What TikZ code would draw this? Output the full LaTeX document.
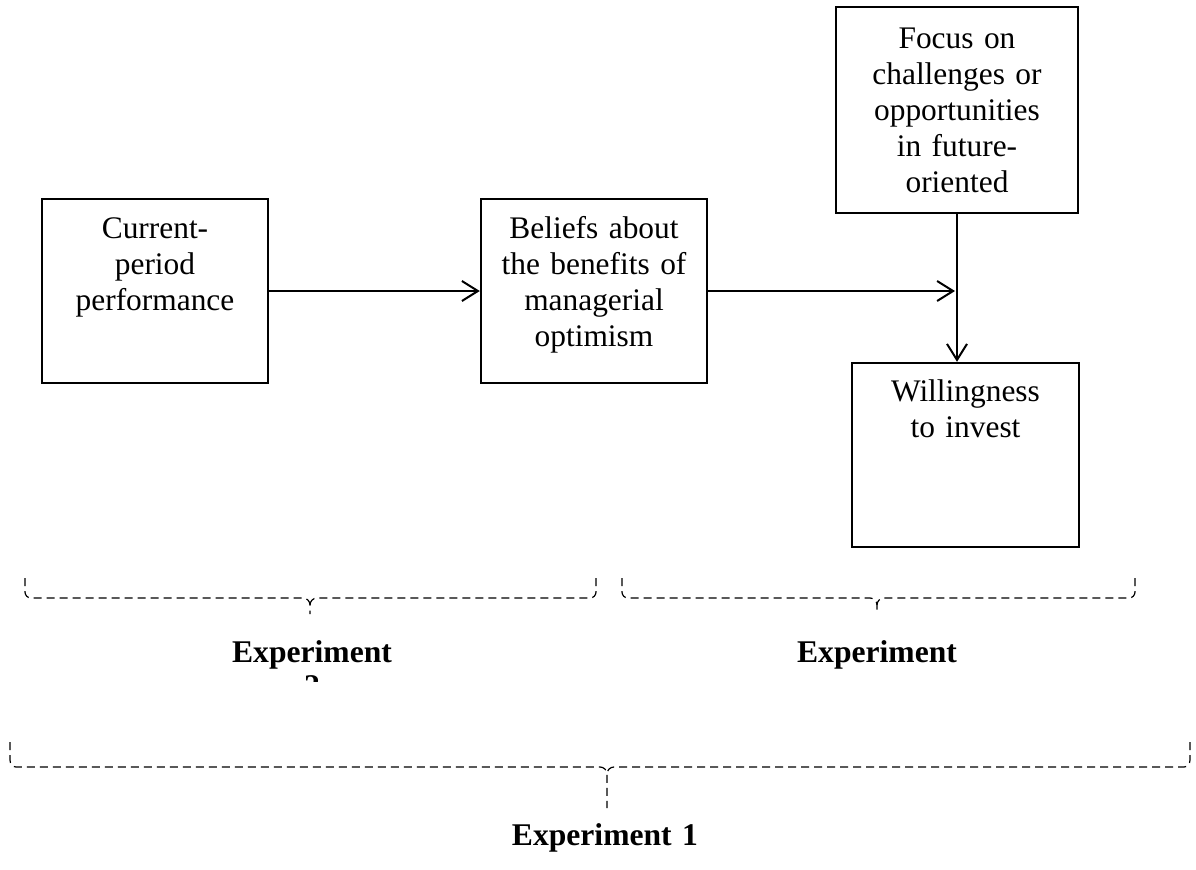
\documentclass[tikz,border=0pt]{standalone}
\usepackage{fontspec}
\setmainfont{Liberation Serif}
\usetikzlibrary{arrows.meta}
\begin{document}
\begin{tikzpicture}[x=0.5pt,y=-0.5pt,
  box/.style={draw,line width=1.2pt,inner sep=0pt},
  lbl/.style={font=\fontsize{15.7}{18}\selectfont,text width=118pt,align=center,anchor=base,inner sep=0pt},
  exlbl/.style={font=\fontsize{15.8}{17}\selectfont\bfseries,text width=110pt,align=center,anchor=base,inner sep=0pt},
  arr/.style={line width=1pt,-{Straight Barb[length=8pt,width=10pt,line width=1pt]}},
  brace/.style={line width=0.6pt,dash pattern=on 4pt off 2.5pt}]
\useasboundingbox (0,0) rectangle (1196,869);

% boxes
\node[box,minimum width=113pt,minimum height=92pt] (cur) at (155,291) {};
\node[lbl] (curt) at ([yshift=-20.5pt]cur.north) {Current-\\period\\performance};

\node[box,minimum width=113pt,minimum height=92pt] (bel) at (594,291) {};
\node[lbl] (belt) at ([yshift=-20.5pt]bel.north) {Beliefs about\\the benefits of\\managerial\\optimism};

\node[box,minimum width=121pt,minimum height=103pt] (foc) at (957,110) {};
\node[lbl] (foct) at ([yshift=-21.5pt]foc.north) {Focus on\\challenges or\\opportunities\\in future-\\oriented};

\node[box,minimum width=113.5pt,minimum height=92pt] (wil) at (965.5,455) {};
\node[lbl] (wilt) at ([yshift=-20pt]wil.north) {Willingness\\to invest};

% connectors
\coordinate (j) at (foc.south |- bel.east);
\draw[arr] (cur.east) -- (bel.west);
\draw[arr,shorten >=1pt] (bel.east) -- (j);
\draw[arr] (foc.south) -- (foc.south |- wil.north);

% braces
\draw[brace] (25,578) -- (25,592) to[out=-90,in=180] (31,598) -- (303,598) to[out=0,in=90] (310,605) -- (310,614);
\draw[brace] (596,578) -- (596,592) to[out=-90,in=0] (590,598) -- (317,598) to[out=180,in=90] (310,605);

\draw[brace] (622,578) -- (622,592) to[out=-90,in=180] (628,598) -- (870,598) to[out=0,in=90] (877,605) -- (877,614);
\draw[brace] (1135,578) -- (1135,592) to[out=-90,in=0] (1129,598) -- (884,598) to[out=180,in=90] (877,605);

\draw[brace] (10,742) -- (10,760) to[out=-90,in=180] (16,767) -- (600,767) to[out=0,in=90] (607,774) -- (607,808);
\draw[brace] (1190,742) -- (1190,760) to[out=-90,in=0] (1184,767) -- (614,767) to[out=180,in=90] (607,774);

% labels
\begin{scope}
\clip (0,0) rectangle (1196,681);
\node[exlbl] (ex2) at (312,662) {Experiment\\2};
\end{scope}
\node[exlbl] (ex3) at (877,662) {Experiment};
\node[exlbl] (ex1) at (605,845) {Experiment 1};
\end{tikzpicture}
\end{document}
